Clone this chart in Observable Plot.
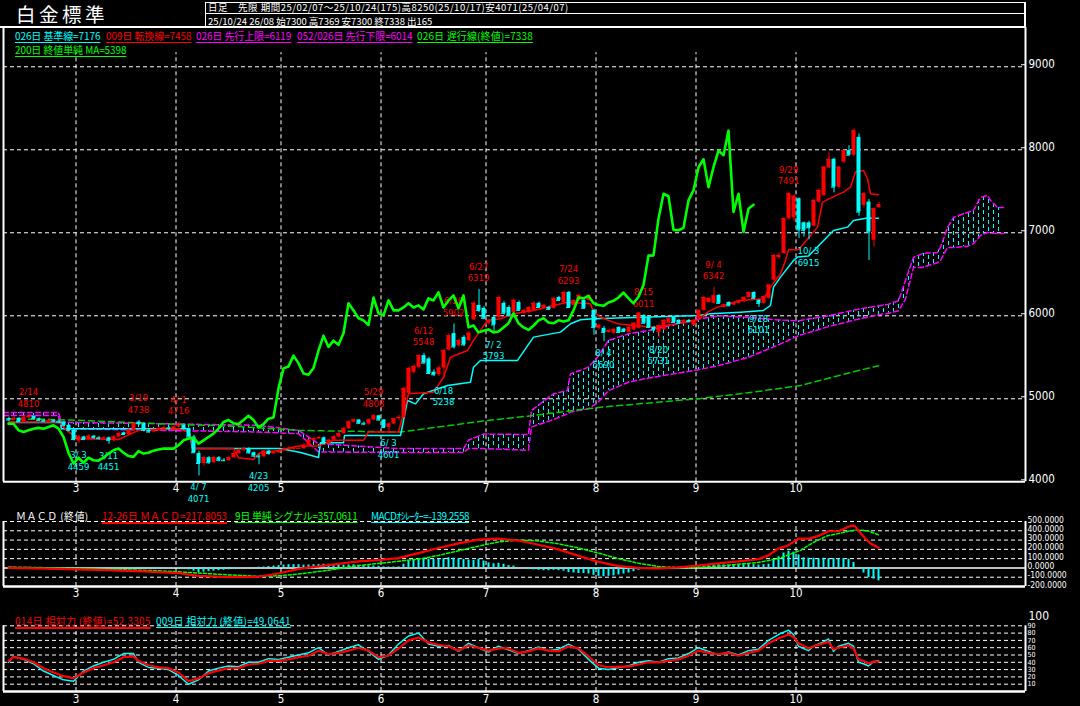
<!DOCTYPE html>
<html><head><meta charset="utf-8">
<script src="https://cdn.jsdelivr.net/npm/d3@7"></script>
<script src="https://cdn.jsdelivr.net/npm/@observablehq/plot@0.6"></script>
<style>
html,body{margin:0;padding:0;background:#000;}
#root{position:relative;width:1080px;height:706px;background:#000;overflow:hidden;color:#fff;font-family:"Noto Sans CJK JP",sans-serif;}
.t{position:absolute;white-space:pre;font-size:10px;line-height:10px;letter-spacing:-0.1px;}
.u{text-decoration:underline;text-underline-offset:2px;}
.u2{text-decoration:underline;text-decoration-thickness:2px;text-underline-offset:2px;}
.ln{position:absolute;background:#fff;}
.p{position:absolute;left:0;}
</style></head>
<body><div id="root"></div>
<script>
// ---------------- DATA ----------------
const open = [4760,4745,4765,4725,4770,4790,4760,4740,4730,4740,
4730,4720,4680,4620,4490,4540,4510,4550,4530,4520,
4530,4500,4540,4590,4570,4620,4720,4700,4620,4600,
4620,4640,4650,4640,4660,4680,4640,4540,4340,4220,
4290,4230,4290,4260,4255,4290,4340,4380,4400,4350,
4310,4300,4370,4340,4350,4375,4390,4400,4400,4400,
4440,4500,4520,4530,4460,4500,4540,4580,4640,4720,
4745,4705,4695,4745,4795,4745,4655,4695,4760,4776,
5065,5318,5380,5520,5480,5320,5290,5370,5590,5785,
5640,5740,5700,5950,6125,6090,5910,5980,5980,6150,
6100,6040,6160,6030,6040,6065,6150,6090,6100,6090,
6220,6162,6282,6125,6185,6185,6185,6065,5848,5848,
5800,5790,5860,5840,5800,5830,5850,6005,5980,5860,
5800,5830,5910,5980,5945,5910,5945,5885,5970,6065,
6160,6150,6245,6100,6160,6130,6150,6170,6220,6280,
6185,6150,6210,6430,6700,6750,7170,7180,7410,7120,
7120,7080,7370,7450,7780,7885,7550,7850,7990,7935,
8150,7330,7370,6910,7300];
const high = [4780,4780,4775,4790,4810,4795,4770,4755,4760,4750,
4740,4725,4690,4630,4560,4550,4570,4560,4545,4545,
4540,4560,4600,4600,4640,4715,4738,4710,4640,4640,
4660,4670,4665,4685,4716,4695,4650,4560,4370,4310,
4305,4310,4305,4280,4305,4360,4400,4420,4410,4360,
4330,4390,4380,4370,4390,4410,4420,4420,4420,4460,
4520,4540,4550,4540,4510,4560,4600,4660,4740,4760,
4750,4720,4760,4808,4800,4750,4710,4770,4800,5140,
5380,5410,5530,5548,5500,5350,5390,5600,5780,5902,
5720,5760,5810,6170,6319,6110,5960,6000,6240,6170,
6120,6200,6180,6080,6110,6170,6165,6140,6115,6225,
6235,6290,6293,6195,6255,6200,6255,6080,5900,5870,
5840,5850,5870,5850,5870,5920,6040,6011,5990,5870,
5890,5955,5980,5990,5955,5955,5955,5955,6075,6230,
6225,6342,6255,6140,6170,6170,6190,6230,6290,6290,
6195,6240,6380,6740,6760,7180,7491,7460,7420,7130,
7140,7400,7530,7800,7970,7900,7800,8000,8050,8250,
8190,7490,7400,7300,7369];
const low = [4730,4735,4715,4720,4760,4750,4730,4720,4725,4715,
4700,4660,4600,4490,4459,4495,4500,4515,4505,4505,
4451,4480,4530,4555,4560,4610,4680,4600,4585,4590,
4610,4630,4620,4630,4650,4625,4520,4340,4071,4190,
4210,4220,4240,4240,4245,4280,4330,4360,4330,4290,
4205,4290,4320,4330,4340,4360,4380,4380,4390,4390,
4430,4490,4510,4450,4450,4490,4530,4570,4630,4710,
4690,4680,4685,4735,4730,4640,4601,4685,4740,4770,
5050,5300,5360,5420,5290,5270,5270,5238,5570,5600,
5620,5630,5690,5940,6040,5950,5890,5793,5970,6010,
5990,6030,6050,6010,6030,6055,6090,6080,6070,6080,
6175,6150,6090,6110,6175,6080,6175,5764,5830,5690,
5790,5780,5790,5800,5795,5820,5840,5900,5850,5820,
5731,5820,5900,5910,5900,5900,5920,5875,5960,6055,
6150,6140,6140,6090,6110,6120,6140,6160,6210,6200,
6101,6140,6200,6420,6680,6740,7150,7130,6932,6948,
6915,7070,7360,7440,7770,7480,7530,7840,7930,7920,
7200,7300,6667,6827,7300];
const close = [4745,4765,4725,4770,4790,4760,4740,4730,4740,4730,
4720,4680,4620,4510,4540,4510,4550,4530,4520,4530,
4500,4540,4580,4570,4620,4700,4700,4620,4600,4620,
4640,4650,4640,4660,4680,4640,4540,4350,4220,4290,
4230,4290,4260,4255,4290,4340,4380,4400,4350,4310,
4300,4370,4340,4350,4375,4390,4400,4400,4400,4440,
4500,4520,4530,4460,4500,4540,4580,4640,4720,4745,
4705,4695,4745,4795,4745,4655,4695,4760,4776,5125,
5366,5390,5520,5430,5305,5290,5370,5580,5760,5625,
5700,5650,5790,6150,6065,5970,5945,5890,6220,6030,
6005,6185,6065,6065,6100,6150,6100,6125,6077,6210,
6185,6282,6100,6185,6245,6090,6245,5860,5884,5800,
5820,5836,5800,5810,5860,5910,6030,5910,5860,5830,
5880,5945,5970,5920,5910,5945,5930,5945,6065,6220,
6210,6240,6150,6130,6120,6160,6180,6220,6280,6210,
6150,6230,6370,6725,6727,7170,7470,7440,7035,7030,
7060,7390,7510,7790,7885,7550,7790,7990,7935,8230,
7250,7470,7010,7290,7338];

// Ichimoku
const kijunDays = [0,10.4,10.6,36,36.8,54.4,58.4,62,62.4,67,67.2,78.4,79.8,81.4,83,87.8,92.4,93,94.4,101.8,105,110.4,112.4,114.4,117,138,140.4,146.4,151,152.4,153,154.4,157,157.8,160,165,167.8,169,171.8,174];
const kijunVals = [4715,4715,4640,4640,4400,4400,4353,4293,4470,4470,4558,4558,4980,4939,5060,5160,5200,5381,5462,5462,5743,5803,5904,5952,5964,6004,6024,6044,6064,6124,6345,6466,6667,6707,6720,7028,7068,7149,7177,7176];
const tenkanDays = [0,10,12,14,22,26,34,36,37,45,46,49,50,54,58,62,65,71,72,78,80,85,87,88.4,91.8,93,95.8,98.4,101,105,109,111.8,116.4,117,118.4,122,129,137.8,139.8,141.8,146.4,151,152.4,154.4,155.4,156,158,161.8,162.8,164.8,167,168.4,169.4,171,171.8,172.4,174];
const tenkanVals = [4720,4720,4600,4520,4510,4620,4640,4600,4400,4400,4290,4270,4340,4380,4430,4430,4500,4500,4600,4600,5060,5080,5260,5501,5582,5703,5944,5964,6024,6064,6124,6164,6145,6044,5983,5900,5863,5944,6044,6104,6185,6205,6345,6506,6667,6796,6796,7068,7369,7430,7490,7550,7731,7751,7651,7470,7458];
const cloudDays = [-1,10,10.6,30,50,58,62,78,91,92,95,104,104.6,109,111.8,112.4,116,117.8,120,124,128,138,142,148,154,158,164,170,174,176,178,179.4,181,182.8,185.8,186.4,187.8,189,191.8,193,194.4,195.8,196.4,197.8,199];
const spanA = [4835,4835,4718,4700,4680,4620,4460,4400,4400,4500,4575,4570,4860,5060,5100,5300,5381,5501,5703,5783,5823,5960,6000,5980,5950,5940,6000,6080,6119,6140,6180,6425,6703,6751,6763,6823,7064,7185,7245,7269,7426,7450,7390,7305,7305];
const spanB = [4800,4800,4640,4620,4600,4580,4360,4353,4353,4400,4400,4380,4660,4750,4819,4840,4880,4950,5100,5200,5250,5350,5400,5500,5650,5760,5870,5960,6014,6030,6060,6200,6583,6583,6640,6667,6823,6823,6836,6870,6968,7004,7000,6992,6992];
const maDays = [0,12,30,45,58.4,78.4,95.8,105,118.4,138.4,148.4,158.4,168.4,174];
const maVals = [4760,4745,4700,4670,4618,4600,4739,4799,4899,5004,5076,5160,5317,5398];

// MACD
const macdDays = [0,10,18,28,34,38,44,50,54,58,64,70,74,78,82,86,90,94,98,102,106,110,114,118,122,126,130,134,138,142,146,150,152,154,156,158,160,162,164,166,167,168.4,169.2,170,171.4,172.4,174];
const macdVals = [0,-10,-20,-40,-55,-85,-100,-95,-60,-10,30,70,85,105,160,215,265,305,315,295,250,200,130,65,20,0,-5,5,25,50,70,95,135,210,245,315,315,345,395,395,420,452,455,400,315,263,218];
const sigDays = [0,10,20,30,38,44,50,54,58,64,70,76,82,86,90,94,98,102,106,110,114,118,122,126,130,134,138,142,146,150,154,158.4,161,163.8,165.8,168.4,169.8,171.8,174];
const sigVals = [10,0,-15,-30,-55,-75,-90,-85,-65,-25,25,60,95,135,185,235,280,300,290,260,215,160,100,50,15,0,5,20,40,60,100,190,275,347,368,400,410,400,357];
const oscVals = [-5,-5,-8,-8,-6,-10,-10,-12,-12,-14,
-15,-18,-22,-28,-30,-28,-26,-24,-22,-20,
-20,-18,-15,-12,-10,-8,-6,-8,-10,-12,
-12,-10,-8,-8,-10,-15,-22,-35,-50,-45,
-40,-35,-30,-25,-20,-15,-10,-5,0,5,
8,10,15,20,25,30,35,35,35,30,
32,35,38,40,40,38,35,30,32,34,
30,25,22,20,18,12,10,10,12,40,
70,85,95,100,95,90,95,100,110,105,
100,90,85,80,95,75,55,45,50,40,
25,20,5,-5,-15,-20,-25,-30,-30,-25,
-30,-35,-50,-55,-60,-60,-65,-80,-90,-95,
-90,-85,-75,-65,-55,-40,-25,-10,-10,-15,
-15,-5,5,10,8,8,10,18,25,35,
38,38,35,32,30,30,32,35,38,35,
30,35,40,80,120,160,180,170,140,110,
105,105,100,105,100,100,95,100,95,60,
5,-55,-105,-120,-139];

// RSI
const rsiDays = [0,1,3,5,7,9,11,13,15,17,19,21,23,25,26,28,30,32,34,36,38,40,42,44,46,48,50,52,54,56,58,60,62,64,66,68,70,72,74,76,78,80,82,84,86,88,90,92,94,96,98,100,102,104,106,108,110,112,114,116,118,120,122,124,126,128,130,132,134,136,138,140,142,144,146,148,150,152,154,156,157,158,160,161,163,164,165,166,168,169,170,171,172,173,174];
const rsi14 = [42,47,45,40,32,26,21,18,26,32,36,40,47,48,42,36,33,32,26,14,18,25,29,32,32,37,38,42,42,44,47,49,56,51,53,56,60,56,47,49,59,70,74,67,64,62,56,63,60,56,59,59,53,55,59,56,55,62,59,48,36,33,34,34,37,40,40,42,44,49,56,53,51,53,49,53,56,66,73,78,75,66,59,62,66,68,58,60,63,59,44,42,38,41,41];
const rsi9 = [40,48,44,38,28,22,16,14,28,35,40,44,52,52,40,33,32,30,22,10,16,28,32,35,34,40,40,45,44,47,50,53,60,50,55,60,64,55,44,50,65,76,80,65,62,63,55,66,60,54,62,57,52,56,61,56,58,65,58,44,32,30,33,35,40,42,40,45,46,52,60,55,50,54,50,56,58,70,78,84,78,62,56,62,68,72,55,62,66,62,40,38,35,41,42];

// annotations (highs / lows)
const annDates = ["2/14","3/19","4/ 1","5/29","6/12","6/20","6/27","7/24","8/15","9/ 4","9/29","3/ 3","3/11","4/ 7","4/23","6/ 3","6/18","7/ 2","8/ 4","8/20","9/18","10/ 3"];
const annDays = [4,26,34,73,83,89,94,112,127,141,156,14,20,38,50,76,87,97,119,130,150,160];
const annPrices = [4810,4738,4716,4808,5548,5902,6319,6293,6011,6342,7491,4459,4451,4071,4205,4601,5238,5793,5690,5731,6101,6915];
const annKinds = ["H","H","H","H","H","H","H","H","H","H","H","L","L","L","L","L","L","L","L","L","L","L"];

const monthStarts = [14,34,55,75,96,118,138,158];
const monthNames = ["3","4","5","6","7","8","9","10"];
const priceTicks = [4000,5000,6000,7000,8000,9000];
const macdTicks = [500,400,300,200,100,0,-100,-200];
const rsiTicks = [90,80,70,60,50,40,30,20,10];

// ---------------- BUILD ----------------
const RED="#ff0000", CYAN="#00ffff", MAG="#ff00ff", GRN="#00ff00", W="#ffffff";
const NUM = "'Liberation Sans Narrow','DejaVu Sans Condensed',sans-serif";
const candles = close.map((c,i)=>({i,o:open[i],h:high[i],l:low[i],c}));
const col = d => d.c >= d.o ? RED : CYAN;
const months = monthStarts.map((s,k)=>({x:s-0.5,t:monthNames[k]}));
const pts = (xs,ys)=>xs.map((x,k)=>({i:x,v:ys[k]}));
const kijun = pts(kijunDays,kijunVals), tenkan = pts(tenkanDays,tenkanVals), ma = pts(maDays,maVals);
const cloud = cloudDays.map((x,k)=>({i:x,a:spanA[k],b:spanB[k]}));
const macd = pts(macdDays,macdVals), sig = pts(sigDays,sigVals);
const osc = oscVals.map((v,i)=>({i,v}));
const r14 = pts(rsiDays,rsi14), r9 = pts(rsiDays,rsi9);
const ann = annDates.map((d,k)=>({d,i:annDays[k],p:annPrices[k],k:annKinds[k]}));
const hi = ann.filter(a=>a.k==="H"), lo = ann.filter(a=>a.k==="L");
const XD = [-1,203.4];
const base = {width:1080, marginLeft:3, marginRight:55, x:{domain:XD,axis:null}, color:{type:"identity"},
  style:{background:"transparent",color:W,overflow:"visible",fontFamily:NUM}};
const dash = "4,3";

const mainSvg = Plot.plot({...base, height:500, marginTop:27, marginBottom:18.7,
  y:{domain:[4000,9473],axis:null},
  marks:[
    Plot.ruleY([5000,6000,7000,8000,9000],{x1:-1,x2:203.4,stroke:W,strokeDasharray:dash}),
    Plot.ruleX(months,{x:"x",y1:4000,y2:9170,stroke:W,strokeDasharray:dash}),
    Plot.areaY(cloud,{x:"i",y1:"a",y2:"b",fill:"url(#hatch)"}),
    Plot.line(cloud,{x:"i",y:"a",stroke:MAG,strokeWidth:1.5,strokeDasharray:"5,3"}),
    Plot.line(cloud,{x:"i",y:"b",stroke:MAG,strokeWidth:1.5,strokeDasharray:"5,3"}),
    Plot.line(ma,{x:"i",y:"v",stroke:"#00cc00",strokeDasharray:"6,4"}),
    Plot.line(kijun,{x:"i",y:"v",stroke:CYAN}),
    Plot.line(tenkan,{x:"i",y:"v",stroke:RED}),
    Plot.ruleX(candles,{x:"i",y1:"l",y2:"h",stroke:col,dx:0.5}),
    Plot.ruleX(candles,{x:"i",y1:"o",y2:"c",stroke:col,strokeWidth:4}),
    Plot.ruleY(candles,{x1:d=>d.i-0.4,x2:d=>d.i+0.4,y:"c",stroke:col}),
    Plot.text(hi,{x:"i",y:"p",text:"d",dy:-22.5,fill:RED,fontSize:9.5}),
    Plot.text(hi,{x:"i",y:"p",text:d=>String(d.p),dy:-11,fill:RED,fontSize:9.5}),
    Plot.text(lo,{x:"i",y:"p",text:"d",dy:11.5,fill:CYAN,fontSize:9.5}),
    Plot.text(lo,{x:"i",y:"p",text:d=>String(d.p),dy:23,fill:CYAN,fontSize:9.5}),
    Plot.line(candles.filter(d=>d.i>=25),{x:d=>d.i-25,y:"c",stroke:GRN,strokeWidth:2.6,strokeLinejoin:"round"}),
    Plot.ruleX([-1,203.4],{y1:4000,y2:9473,stroke:W,strokeWidth:2}),
    Plot.ruleY([4000],{x1:-1,x2:203.4,stroke:W,strokeWidth:2}),
    Plot.ruleY(priceTicks,{x1:202.6,x2:203.4,stroke:W,dy:-2}),
    Plot.text(priceTicks,{x:203.4,y:d=>d,text:d=>String(d),dx:3,textAnchor:"start",lineAnchor:"bottom",dy:1,fontSize:11.5}),
    Plot.text(months,{x:"x",y:4000,text:"t",lineAnchor:"top",dy:2,fontSize:11.5})
  ]});

const macdSvg = Plot.plot({...base, height:100, marginTop:21, marginBottom:14,
  y:{domain:[-200,500],axis:null},
  marks:[
    Plot.ruleY([100,200,300,400,500,-100],{x1:-1,x2:203.4,stroke:W,strokeDasharray:dash}),
    Plot.ruleX(months,{x:"x",y1:-200,y2:500,stroke:W,strokeDasharray:dash}),
    Plot.ruleY([0],{x1:-1,x2:203.4,stroke:W,strokeWidth:1.5}),
    Plot.ruleX(osc,{x:"i",y1:0,y2:"v",stroke:CYAN,strokeWidth:2}),
    Plot.line(sig,{x:"i",y:"v",stroke:GRN,strokeDasharray:"3,2"}),
    Plot.line(macd,{x:"i",y:"v",stroke:RED,strokeWidth:2.2}),
    Plot.ruleY([-200],{x1:-1,x2:203.4,stroke:W,strokeWidth:2.5}),
    Plot.ruleX([-1,203.4],{y1:-200,y2:500,stroke:W,strokeWidth:2}),
    Plot.text(macdTicks,{x:203.4,y:d=>d,text:d=>d.toFixed(4),dx:2,textAnchor:"start",lineAnchor:"bottom",dy:1,fontSize:8.5}),
    Plot.text(months,{x:"x",y:-200,text:"t",lineAnchor:"top",dy:2,fontSize:11.5})
  ]});

const rsiSvg = Plot.plot({...base, height:106, marginTop:18, marginBottom:15,
  y:{domain:[0,100],axis:null},
  marks:[
    Plot.ruleY(rsiTicks,{x1:-1,x2:203.4,stroke:W,strokeDasharray:dash}),
    Plot.ruleX(months,{x:"x",y1:0,y2:90,stroke:W,strokeDasharray:dash}),
    Plot.line(r9,{x:"i",y:"v",stroke:CYAN,strokeWidth:1.5}),
    Plot.line(r14,{x:"i",y:"v",stroke:RED,strokeWidth:2.2}),
    Plot.ruleY([0],{x1:-1,x2:203.4,stroke:W,strokeWidth:2.5}),
    Plot.ruleX([-1,203.4],{y1:0,y2:90,stroke:W,strokeWidth:2}),
    Plot.text([100],{x:203.4,y:d=>d,text:d=>String(d),dx:3,textAnchor:"start",lineAnchor:"bottom",dy:1,fontSize:12}),
    Plot.text(rsiTicks,{x:203.4,y:d=>d,text:d=>String(d),dx:2,textAnchor:"start",fontSize:7}),
    Plot.text(months,{x:"x",y:0,text:"t",lineAnchor:"top",dy:3,fontSize:11.5})
  ]});

// hatch pattern for the cloud (short vertical cyan dashes, staggered columns)
const defs = document.createElementNS("http://www.w3.org/2000/svg","defs");
defs.innerHTML = '<pattern id="hatch" patternUnits="userSpaceOnUse" width="10" height="7">'
  + '<rect x="3" y="0" width="1" height="4" fill="#00ffff"/><rect x="8" y="3" width="1" height="4" fill="#00ffff"/></pattern>';
mainSvg.insertBefore(defs, mainSvg.firstChild);

const root = document.getElementById("root");
[[mainSvg,0],[macdSvg,500],[rsiSvg,600]].forEach(([s,top])=>{s.classList.add("p");s.style.top=top+"px";root.appendChild(s);});

// header / legends (HTML text)
function el(html){root.insertAdjacentHTML("beforeend",html);}
el('<div class="ln" style="left:205px;top:2px;width:820px;height:1px"></div>');
el('<div class="ln" style="left:205px;top:13px;width:820px;height:1px"></div>');
el('<div class="ln" style="left:0;top:26px;width:1026px;height:1.5px"></div>');
el('<div class="ln" style="left:205px;top:2px;width:1px;height:24px"></div>');
el('<div class="ln" style="left:1024px;top:2px;width:2px;height:25px"></div>');
el('<div class="t" style="left:16px;top:4px;font-size:19.5px;line-height:20px;letter-spacing:3.5px;">白金標準</div>');
el('<div class="t" style="left:208px;top:2px;font-size:9.5px;line-height:10px;letter-spacing:0.5px;">日足　先限 期間25/02/07～25/10/24(175)高8250(25/10/17)安4071(25/04/07)</div>');
el('<div class="t" style="left:208px;top:16px;font-size:9.5px;line-height:10px;letter-spacing:0;">25/10/24 26/08 始7300 高7369 安7300 終7338 出165</div>');
el('<div class="t u" style="left:15px;top:30.5px;color:#00ffff">026日 基準線=7176</div>');
el('<div class="t u" style="left:106px;top:30.5px;color:#ff0000">009日 転換線=7458</div>');
el('<div class="t u" style="left:196px;top:30.5px;color:#ff00ff">026日 先行上限=6119</div>');
el('<div class="t u" style="left:297px;top:30.5px;color:#ff00ff">052/026日 先行下限=6014</div>');
el('<div class="t u" style="left:417px;top:30.5px;color:#00ff00;letter-spacing:0.15px">026日 遅行線(終値)=7338</div>');
el('<div class="t u" style="left:15px;top:45px;color:#00ff00">200日 終値単純 MA=5398</div>');
el('<div class="t" style="left:16px;top:511px;letter-spacing:0.4px">ＭＡＣＤ (終値)</div>');
el('<div class="t u2" style="left:102px;top:511px;color:#ff0000;letter-spacing:0">12-26日 ＭＡＣＤ=217.8053</div>');
el('<div class="t u" style="left:235px;top:511px;color:#00ff00;letter-spacing:-0.25px">9日 単純 シグナル=357.0611</div>');
el('<div class="t u" style="left:371px;top:511px;color:#00ffff;letter-spacing:-0.5px">MACDｵｼﾚｰﾀｰ=-139.2558</div>');
el('<div class="t u2" style="left:15px;top:616px;color:#ff0000;letter-spacing:0.3px">014日 相対力 (終値)=52.3305</div>');
el('<div class="t u" style="left:156px;top:616px;color:#00ffff;letter-spacing:0.25px">009日 相対力 (終値)=49.0641</div>');
</script></body></html>
